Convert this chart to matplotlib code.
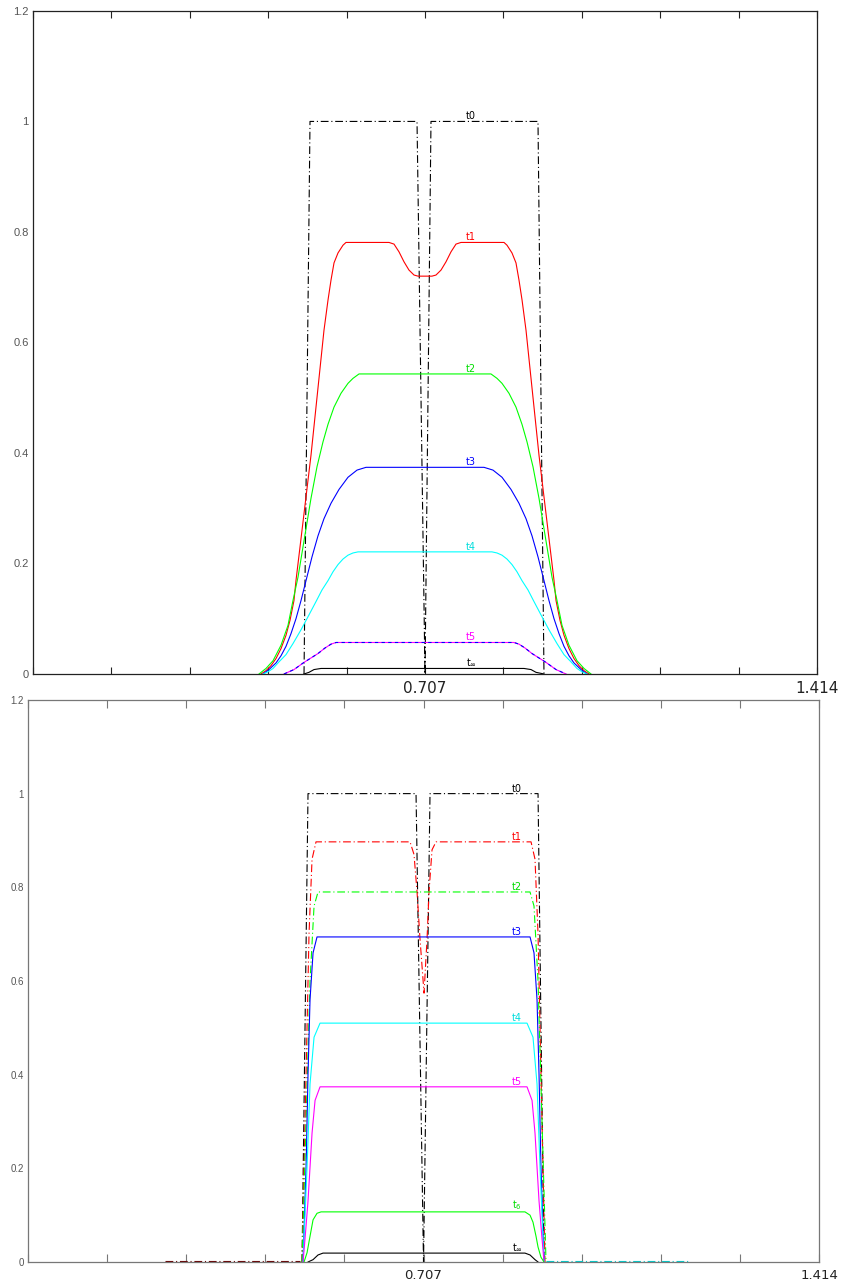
import matplotlib
matplotlib.use("Agg")
import matplotlib.pyplot as plt
import numpy as np

# ---- Daten ----
x_ticks = [0.1414 * i for i in range(11)]
x_labels = ["", "", "", "", "", "0.707", "", "", "", "", "1.414"]
y_ticks = [0, 0.2, 0.4, 0.6, 0.8, 1.0, 1.2]
y_labels = ["0", "0.2", "0.4", "0.6", "0.8", "1", "1.2"]

# oberes Diagramm
top_t0_x = [0.4888, 0.4996, 0.6926, 0.707, 0.7178, 0.9108, 0.9216]
top_t0_y = [0, 1, 1, 0, 1, 1, 0]

top_t1_x = [0.4112, 0.4202, 0.4292, 0.4383, 0.4473, 0.4563, 0.4635, 0.4707, 0.4743, 0.5014,
            0.5248, 0.5321, 0.5375, 0.5429, 0.5501, 0.5591, 0.5645, 0.6421, 0.6511, 0.6601,
            0.6691, 0.6781, 0.6872, 0.6944, 0.7196, 0.7268, 0.7359, 0.7449, 0.7539, 0.7629,
            0.7719, 0.8495, 0.8549, 0.8639, 0.8711, 0.8765, 0.8820, 0.8892, 0.9126, 0.9397,
            0.9433, 0.9505, 0.9577, 0.9667, 0.9757, 0.9848, 0.9938, 1.0028]
top_t1_y = [0, 0.006, 0.015, 0.028, 0.046, 0.070, 0.097, 0.133, 0.169, 0.396,
            0.622, 0.677, 0.713, 0.744, 0.762, 0.776, 0.781, 0.781, 0.778, 0.764,
            0.746, 0.731, 0.722, 0.720, 0.720, 0.722, 0.731, 0.746, 0.764, 0.778,
            0.781, 0.781, 0.776, 0.762, 0.744, 0.713, 0.677, 0.622, 0.396, 0.169,
            0.133, 0.097, 0.070, 0.046, 0.028, 0.015, 0.006, 0]

top_t2_x = [0.4076, 0.4202, 0.4329, 0.4473, 0.4599, 0.4689, 0.4779, 0.4906, 0.5014, 0.5122,
            0.5230, 0.5321, 0.5429, 0.5555, 0.5681, 0.5771, 0.5880, 0.8260, 0.8369, 0.8459,
            0.8585, 0.8711, 0.8819, 0.8910, 0.9018, 0.9126, 0.9234, 0.9361, 0.9451, 0.9541,
            0.9667, 0.9811, 0.9938, 1.0064]
top_t2_y = [0, 0.010, 0.024, 0.052, 0.088, 0.133, 0.175, 0.252, 0.318, 0.375,
            0.420, 0.452, 0.483, 0.508, 0.526, 0.535, 0.543, 0.543, 0.535, 0.526,
            0.508, 0.483, 0.452, 0.420, 0.375, 0.318, 0.252, 0.175, 0.133, 0.088,
            0.052, 0.024, 0.010, 0]

top_t3_x = [0.4148, 0.4256, 0.4383, 0.4473, 0.4563, 0.4653, 0.4743, 0.4834, 0.4924, 0.5032,
            0.5140, 0.5248, 0.5375, 0.5519, 0.5681, 0.5844, 0.6006, 0.8134, 0.8296, 0.8459,
            0.8621, 0.8765, 0.8892, 0.9000, 0.9108, 0.9216, 0.9306, 0.9397, 0.9487, 0.9577,
            0.9667, 0.9757, 0.9884, 0.9992]
top_t3_y = [0, 0.008, 0.02, 0.033, 0.05, 0.073, 0.10, 0.133, 0.169, 0.212,
            0.250, 0.281, 0.309, 0.334, 0.356, 0.369, 0.374, 0.374, 0.369, 0.356,
            0.334, 0.309, 0.281, 0.250, 0.212, 0.169, 0.133, 0.10, 0.073, 0.05,
            0.033, 0.02, 0.008, 0]

top_t4_x = [0.4148, 0.4238, 0.4329, 0.4437, 0.4563, 0.4689, 0.4834, 0.4978, 0.5104, 0.5212,
            0.5321, 0.5411, 0.5501, 0.5591, 0.5681, 0.5771, 0.5862, 0.8278, 0.8369, 0.8459,
            0.8549, 0.8639, 0.8729, 0.8819, 0.8928, 0.9036, 0.9162, 0.9306, 0.9451, 0.9577,
            0.9703, 0.9811, 0.9902, 0.9992]
top_t4_y = [0, 0.004, 0.01, 0.022, 0.035, 0.055, 0.08, 0.107, 0.131, 0.152,
            0.169, 0.185, 0.198, 0.208, 0.215, 0.219, 0.221, 0.221, 0.219, 0.215,
            0.208, 0.198, 0.185, 0.169, 0.152, 0.131, 0.107, 0.08, 0.055, 0.035,
            0.022, 0.01, 0.004, 0]

top_t5_x = [0.4527, 0.4707, 0.4888, 0.5014, 0.5140, 0.5266, 0.5375, 0.5465,
            0.8675, 0.8765, 0.8874, 0.9000, 0.9126, 0.9252, 0.9433, 0.9613]
top_t5_y = [0, 0.008, 0.021, 0.029, 0.037, 0.047, 0.054, 0.057,
            0.057, 0.054, 0.047, 0.037, 0.029, 0.021, 0.008, 0]

top_t6_x = [0.4888, 0.4978, 0.5068, 0.5194, 0.8856, 0.8982, 0.9072, 0.9216]
top_t6_y = [0, 0.003, 0.008, 0.010, 0.010, 0.008, 0.003, 0]

# unteres Diagramm
bot_t0_x = [0.4898, 0.5005, 0.6936, 0.707, 0.7186, 0.9117, 0.9224]
bot_t0_y = [0, 1, 1, 0, 1, 1, 0]

bot_t1_x = [0.4898, 0.4952, 0.5023, 0.5077, 0.5148, 0.6829, 0.6900, 0.6954, 0.7007, 0.7079,
            0.7133, 0.7168, 0.7222, 0.7293, 0.8992, 0.9063, 0.9117, 0.9188, 0.9242]
bot_t1_y = [0, 0.3, 0.7, 0.86, 0.897, 0.897, 0.87, 0.79, 0.69, 0.574,
            0.69, 0.79, 0.88, 0.897, 0.897, 0.86, 0.7, 0.3, 0]

bot_t2_x = [0.4898, 0.4970, 0.5041, 0.5113, 0.5184, 0.8974, 0.9045, 0.9117, 0.9188, 0.9260]
bot_t2_y = [0, 0.3, 0.6, 0.76, 0.79, 0.79, 0.76, 0.6, 0.3, 0]

bot_t3_x = [0.4916, 0.4970, 0.5005, 0.5041, 0.5095, 0.5166,
            0.8974, 0.9045, 0.9099, 0.9135, 0.9170, 0.9224]
bot_t3_y = [0, 0.2, 0.4, 0.56, 0.66, 0.694, 0.694, 0.66, 0.56, 0.4, 0.2, 0]

bot_t4_x = [0.4916, 0.4987, 0.5041, 0.5113, 0.5220, 0.8920, 0.9027, 0.9099, 0.9153, 0.9224]
bot_t4_y = [0, 0.2, 0.38, 0.48, 0.51, 0.51, 0.48, 0.38, 0.2, 0]

bot_t5_x = [0.4916, 0.4952, 0.5005, 0.5077, 0.5131, 0.5220,
            0.8920, 0.9010, 0.9063, 0.9135, 0.9188, 0.9224]
bot_t5_y = [0, 0.05, 0.13, 0.275, 0.345, 0.374, 0.374, 0.345, 0.275, 0.13, 0.05, 0]

bot_t6_x = [0.4934, 0.4988, 0.5041, 0.5095, 0.5166, 0.5238,
            0.8884, 0.8974, 0.9027, 0.9081, 0.9117, 0.9170, 0.9224]
bot_t6_y = [0, 0.02, 0.055, 0.09, 0.104, 0.107, 0.107, 0.10, 0.085, 0.055, 0.032, 0.01, 0]

bot_t7_x = [0.5005, 0.5095, 0.5184, 0.5273, 0.8884, 0.8974, 0.9063, 0.9117]
bot_t7_y = [0, 0.005, 0.015, 0.019, 0.019, 0.015, 0.005, 0]

# Auslaeufer am Boden (unteres Diagramm)
tail_left_x = [0.2449, 0.4862]
tail_right_x = [0.9260, 1.1834]
tail_y = [0.002, 0.002]

# Beschriftungen der Kurven: (Text, y, Farbe)
top_names = [("t0", 1.0, "black"), ("t1", 0.781, "red"), ("t2", 0.543, "#00dd00"),
             ("t3", 0.374, "blue"), ("t4", 0.221, "#00dddd"), ("t5", 0.057, "magenta"),
             ("t$_\\infty$", 0.010, "black")]
bot_names = [("t0", 1.0, "black"), ("t1", 0.897, "red"), ("t2", 0.79, "#00dd00"),
             ("t3", 0.694, "blue"), ("t4", 0.51, "#00dddd"), ("t5", 0.374, "magenta"),
             ("t$_6$", 0.107, "#00dd00"), ("t$_\\infty$", 0.019, "black")]

DASHDOT = (0, (7, 2.5, 1, 2.5))
LW = 0.8


def setup_axes(ax, spine_col, xsize, ysize, ticklen):
    ax.set_xlim(0, 1.414)
    ax.set_ylim(0, 1.2)
    for s in ax.spines.values():
        s.set_color(spine_col)
        s.set_linewidth(0.9)
    ax.set_xticks(x_ticks)
    ax.set_xticklabels(x_labels, fontsize=xsize, color="#222222")
    ax.set_yticks(y_ticks)
    ax.set_yticklabels(y_labels, fontsize=ysize, color="#555555", family="Liberation Sans")
    ax.tick_params(axis="x", direction="in", length=ticklen, width=0.8, color=spine_col,
                   top=True, pad=5)
    ax.tick_params(axis="y", length=0, pad=3)


fig = plt.figure(figsize=(8.42, 12.85), dpi=100)

# oberes Diagramm
ax1 = fig.add_axes([0.0392, 0.4755, 0.9311, 0.5160])
ax1.plot(top_t0_x, top_t0_y, color="black", lw=LW, ls=DASHDOT)
ax1.plot(top_t1_x, top_t1_y, color="red", lw=LW)
ax1.plot(top_t2_x, top_t2_y, color="#00ff00", lw=LW)
ax1.plot(top_t3_x, top_t3_y, color="blue", lw=LW)
ax1.plot(top_t4_x, top_t4_y, color="cyan", lw=LW)
ax1.plot(top_t5_x, top_t5_y, color="magenta", lw=LW)
ax1.plot(top_t5_x, top_t5_y, color="blue", lw=LW, ls=(0, (3, 3)))
ax1.plot(top_t6_x, top_t6_y, color="black", lw=LW)
for name, yv, col in top_names:
    ax1.text(0.781, yv, name, fontsize=7, color=col, va="bottom", ha="left")
setup_axes(ax1, "#222222", 11, 8, 5)

# unteres Diagramm
ax2 = fig.add_axes([0.0333, 0.0179, 0.9394, 0.4374])
ax2.plot(tail_left_x, tail_y, color="#660000", lw=LW, ls=DASHDOT)
ax2.plot(tail_right_x, tail_y, color="#00cccc", lw=LW, ls=DASHDOT)
ax2.plot(bot_t0_x, bot_t0_y, color="black", lw=LW, ls=DASHDOT)
ax2.plot(bot_t1_x, bot_t1_y, color="red", lw=LW, ls=DASHDOT)
ax2.plot(bot_t2_x, bot_t2_y, color="#00ff00", lw=LW, ls=DASHDOT)
ax2.plot(bot_t3_x, bot_t3_y, color="blue", lw=LW)
ax2.plot(bot_t4_x, bot_t4_y, color="cyan", lw=LW)
ax2.plot(bot_t5_x, bot_t5_y, color="magenta", lw=LW)
ax2.plot(bot_t6_x, bot_t6_y, color="#00ff00", lw=LW)
ax2.plot(bot_t7_x, bot_t7_y, color="black", lw=LW)
for name, yv, col in bot_names:
    ax2.text(0.865, yv, name, fontsize=7, color=col, va="bottom", ha="left")
setup_axes(ax2, "#777777", 9.5, 7, 6)

fig.savefig("out.png", dpi=100)
